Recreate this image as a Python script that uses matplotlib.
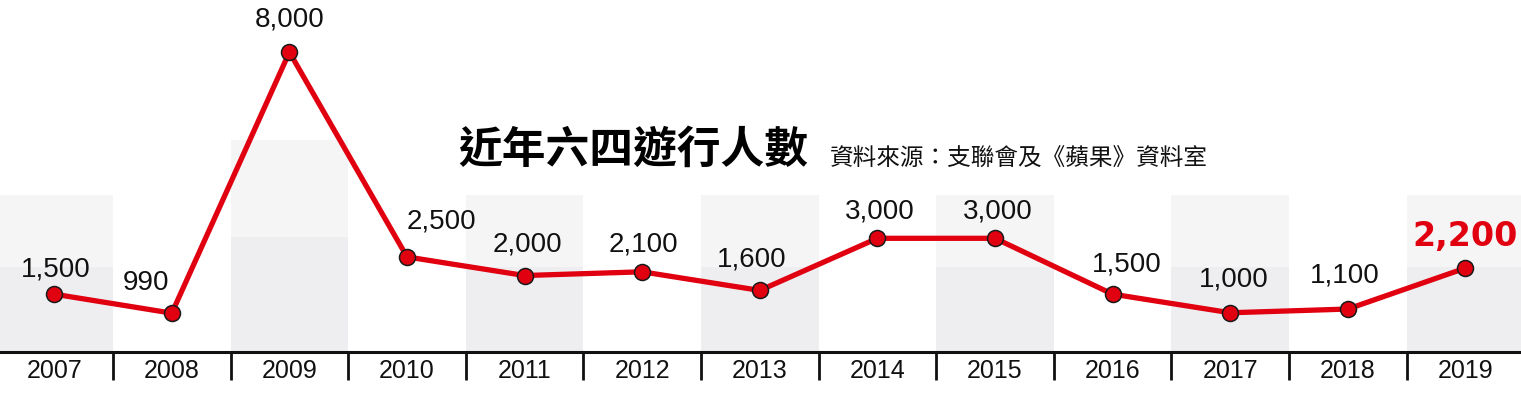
import numpy as np
import matplotlib.pyplot as plt
from matplotlib.transforms import blended_transform_factory

plt.rcParams['font.family'] = ['Liberation Sans', 'DejaVu Sans']

years = ['2007', '2008', '2009', '2010', '2011', '2012', '2013',
         '2014', '2015', '2016', '2017', '2018', '2019']
marchers = [1500, 990, 8000, 2500, 2000, 2100, 1600,
            3000, 3000, 1500, 1000, 1100, 2200]
value_labels = ['1,500', '990', '8,000', '2,500', '2,000', '2,100', '1,600',
                '3,000', '3,000', '1,500', '1,000', '1,100', '2,200']

# shaded background columns (every other year): upper light part / lower part
band_cols = [0, 2, 4, 6, 8, 10, 12]
band_top = [4160, 5640, 4160, 4160, 4160, 4160, 4160]
band_mid = [2230, 3035, 2230, 2230, 2230, 2230, 2230]

title = '近年六四遊行人數'
source = '資料來源：支聯會及《蘋果》資料室'

RED = '#e0000f'

# label offsets in pixels (dx, dy) relative to each point
label_off = [(2, 12), (-26, 17), (0, 20), (34, 22), (3, 18), (1, 14), (-8, 18),
             (2, 14), (3, 14), (14, 17), (4, 20), (-3, 21), (0, 15)]

fig = plt.figure(figsize=(15.21, 3.94), dpi=100)
ax = fig.add_axes([0, 0, 1, 1])
ax.set_xlim(0.039, 0.039 + 1521 / 117.6)
ax.set_ylim(-1182, 9401)
ax.axis('off')

x = np.arange(len(years)) + 0.5

# background bands
for c, top, mid in zip(band_cols, band_top, band_mid):
    ax.bar(c + 0.5, top - mid, width=1.0, bottom=mid, color='#f5f5f5',
           edgecolor='none', zorder=0)
    ax.bar(c + 0.5, mid + 54, width=1.0, bottom=-54, color='#eeeef1',
           edgecolor='none', zorder=0)

# baseline and separators
trans = blended_transform_factory(ax.transData, fig.transFigure)
ax.plot([0, 14], [-54, -54], color='#111111', lw=2.2, zorder=2,
        solid_capstyle='butt')
for b in range(1, len(years)):
    ax.plot([b, b], [0.035, 0.1066], color='#111111', lw=2.0,
            transform=trans, solid_capstyle='butt')
for xi, yr in zip(x, years):
    ax.text(xi, 0.058, yr, transform=trans, ha='center', va='center',
            fontsize=18, color='#111111')

# the line
ax.plot(x, marchers, color=RED, lw=3.8, zorder=3, solid_joinstyle='round')
ax.plot(x, marchers, 'o', ms=11.5, mfc=RED, mec='#1a1a1a', mew=1.1, zorder=4)

for i, (xi, v, lab) in enumerate(zip(x, marchers, value_labels)):
    dx, dy = label_off[i]
    if i == len(years) - 1:
        ax.annotate(lab, (xi, v), xytext=(dx, dy), textcoords='offset pixels',
                    ha='center', va='bottom', fontsize=24, fontweight='heavy',
                    color=RED, family='DejaVu Sans')
    else:
        ax.annotate(lab, (xi, v), xytext=(dx, dy), textcoords='offset pixels',
                    ha='center', va='bottom', fontsize=20, color='#111111')

fig.text(458 / 1521, 1 - 150 / 394, title, ha='left', va='center',
         fontsize=31.5, fontweight='heavy', color='#000000',
         family=['Noto Sans CJK TC', 'DejaVu Sans'])
fig.text(830 / 1521, 1 - 159 / 394, source, ha='left', va='center',
         fontsize=17, color='#111111',
         family=['Noto Sans CJK TC', 'DejaVu Sans'])

fig.savefig('out.png', dpi=100, facecolor='white')
